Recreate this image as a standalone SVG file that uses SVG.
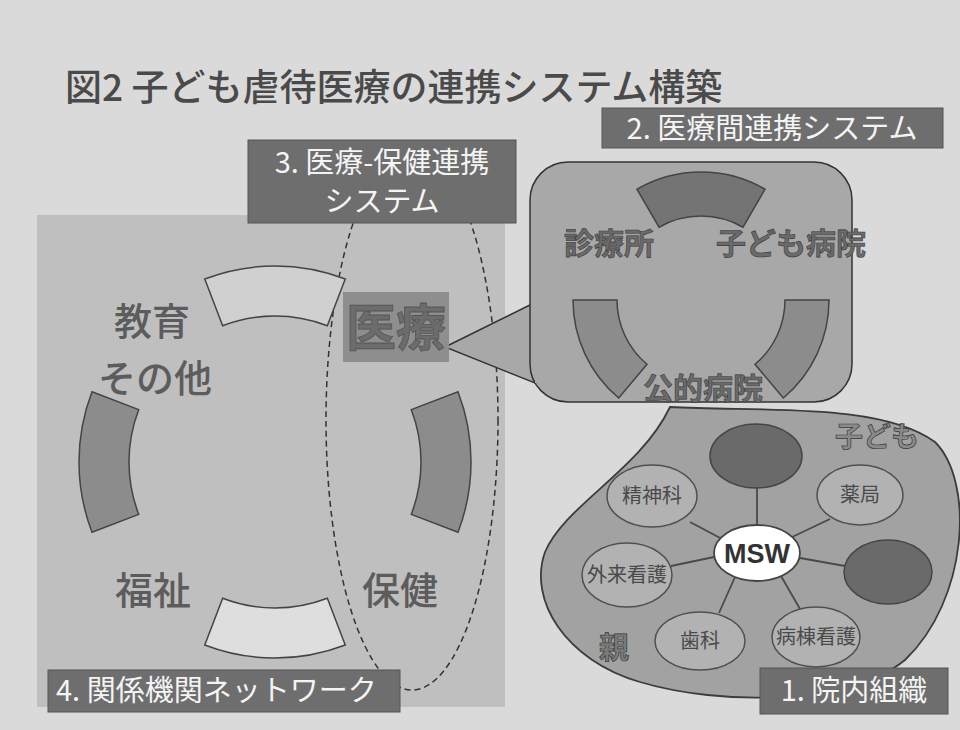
<svg xmlns="http://www.w3.org/2000/svg" width="960" height="730" viewBox="0 0 960 730">
<style>
.jp{font-family:"Noto Sans CJK JP","Liberation Sans",sans-serif}
.lbl{fill:#6e6e6e;stroke:#555;stroke-width:1}
.lbltxt{fill:#f4f4f4;font-size:29px}
.big{fill:#5c5c5c;font-size:38px;font-weight:500}
.bub{fill:#6a6a6a;font-size:30px;font-weight:700;stroke:#3a3a3a;stroke-width:0.6}
.ell{fill:#b2b2b2;stroke:#505050;stroke-width:1.5}
.dark{fill:#6a6a6a;stroke:#454545;stroke-width:1.5}
.etxt{fill:#4a4a4a;font-size:20px}
.seg{stroke:#444;stroke-width:1.5}
.conn line{stroke:#4a4a4a;stroke-width:1.8}
</style>
<rect width="960" height="730" fill="#dadada"/>
<g id="title"><text class="jp" x="65" y="101" font-size="37" font-weight="500" fill="#4a4a4a">図2 子ども虐待医療の連携システム構築</text></g>

<g id="network-area">
<rect x="37" y="215" width="468" height="492" fill="#bfbfbf"/>
<ellipse cx="412" cy="420" rx="86" ry="270" fill="none" stroke="#333" stroke-width="1.5" stroke-dasharray="6,4"/>
<path class="seg" fill="#d0d0d0" d="M204.75,279.01 A196,196 0 0 1 345.25,279.01 L327.33,325.69 A146,146 0 0 0 222.67,325.69 Z"/>
<path class="seg" fill="#dedede" d="M222.67,598.31 A146,146 0 0 0 327.33,598.31 L345.25,644.99 A196,196 0 0 1 204.75,644.99 Z"/>
<path class="seg" fill="#8c8c8c" d="M92.01,532.25 A196,196 0 0 1 92.01,391.75 L138.69,409.67 A146,146 0 0 0 138.69,514.33 Z"/>
<path class="seg" fill="#8c8c8c" d="M457.99,391.75 A196,196 0 0 1 457.99,532.25 L411.31,514.33 A146,146 0 0 0 411.31,409.67 Z"/>
</g>
<g id="kyoiku"><text class="jp big" x="152" y="335" text-anchor="middle">教育</text><text class="jp big" x="155" y="392" text-anchor="middle">その他</text></g>
<g id="fukushi"><text class="jp big" x="153" y="604" text-anchor="middle">福祉</text></g>
<g id="hoken"><text class="jp big" x="400" y="604" text-anchor="middle">保健</text></g>

<g id="callout">
<path d="M540,300 L445,347 L540,385 Z" fill="#a8a8a8" stroke="#333" stroke-width="1.5"/>
<rect x="530" y="162" width="322" height="240" rx="38" fill="#a8a8a8" stroke="#333" stroke-width="1.5"/>
<path d="M538,302 L538,383" stroke="#a8a8a8" stroke-width="6"/>
<path class="seg" fill="#747474" d="M637,189.15 A128,128 0 0 1 765,189.15 L743,227.25 A84,84 0 0 0 659,227.25 Z"/>
<path class="seg" fill="#8c8c8c" d="M573,300 L617,300 A84,84 0 0 0 647,364.3 L618.7,398 A128,128 0 0 1 573,300 Z"/>
<path class="seg" fill="#8c8c8c" d="M829,300 L785,300 A84,84 0 0 1 755,364.3 L783.3,398 A128,128 0 0 0 829,300 Z"/>
<text class="jp bub" x="609" y="254" text-anchor="middle">診療所</text>
<text class="jp bub" x="791" y="254" text-anchor="middle">子ども病院</text>
<text class="jp bub" x="703" y="399" text-anchor="middle">公的病院</text>
</g>

<g id="iryo">
<rect x="343" y="292" width="106" height="70" fill="#8e8e8e"/>
<text class="jp" x="396" y="346" text-anchor="middle" font-size="50" font-weight="700" fill="#6c6c6c" stroke="#555" stroke-width="0.8">医療</text>
</g>

<g id="label3"><rect class="lbl" x="248" y="140" width="268" height="83"/>
<text class="jp lbltxt" x="382" y="173" text-anchor="middle" font-size="27">3. 医療-保健連携</text>
<text class="jp lbltxt" x="382" y="212" text-anchor="middle" font-size="27">システム</text></g>
<g id="label2"><rect class="lbl" x="602" y="108" width="341" height="40"/>
<text class="jp lbltxt" x="772" y="139" text-anchor="middle">2. 医療間連携システム</text></g>

<g id="hospital">
<path d="M670,407 C760,412 880,402 935,442 C975,482 968,600 905,660 C850,705 720,706 640,682 C565,660 528,600 545,552 C565,505 640,470 670,407 Z" fill="#a2a2a2" stroke="#3c3c3c" stroke-width="1.8"/>
<text class="jp" x="877" y="447" text-anchor="middle" font-size="28" font-weight="700" fill="#8a8a8a" stroke="#3a3a3a" stroke-width="0.7">子ども</text>
<text class="jp" x="614" y="658" text-anchor="middle" font-size="30" font-weight="700" fill="#7a7a7a" stroke="#3a3a3a" stroke-width="0.7">親</text>
</g>
<g class="conn" id="connectors">
<line x1="757" y1="488" x2="757" y2="526"/>
<line x1="690" y1="522" x2="724" y2="540"/>
<line x1="790" y1="538" x2="830" y2="519"/>
<line x1="714" y1="557" x2="671" y2="566"/>
<line x1="800" y1="558" x2="845" y2="566"/>
<line x1="735" y1="577" x2="719" y2="613"/>
<line x1="781" y1="576" x2="800" y2="609"/>
</g>
<g id="n-top"><ellipse class="dark" cx="756" cy="456" rx="46" ry="32"/></g>
<g id="n-seishin"><ellipse class="ell" cx="652" cy="496" rx="45" ry="31"/><text class="jp etxt" x="652" y="503" text-anchor="middle">精神科</text></g>
<g id="n-yakkyoku"><ellipse class="ell" cx="860" cy="495" rx="43" ry="30"/><text class="jp etxt" x="860" y="502" text-anchor="middle">薬局</text></g>
<g id="n-left"><ellipse class="ell" cx="627" cy="575" rx="45" ry="32"/><text class="jp etxt" x="627" y="582" text-anchor="middle">外来看護</text></g>
<g id="n-right"><ellipse class="dark" cx="888" cy="572" rx="44" ry="32"/></g>
<g id="n-shika"><ellipse class="ell" cx="700" cy="641" rx="45" ry="29"/><text class="jp etxt" x="700" y="648" text-anchor="middle">歯科</text></g>
<g id="n-byoto"><ellipse class="ell" cx="816" cy="637" rx="44" ry="30"/><text class="jp etxt" x="816" y="644" text-anchor="middle">病棟看護</text></g>
<g id="n-msw"><ellipse cx="757" cy="553" rx="43" ry="28" fill="#ffffff" stroke="#444" stroke-width="1.8"/><text x="757" y="563" text-anchor="middle" font-family="Liberation Sans, sans-serif" font-size="27" font-weight="700" fill="#333">MSW</text></g>

<g id="label4"><rect class="lbl" x="48" y="670" width="352" height="42"/>
<text class="jp lbltxt" x="56" y="701">4. 関係機関ネットワーク</text></g>
<g id="label1"><rect class="lbl" x="760" y="668" width="188" height="46"/>
<text class="jp lbltxt" x="854" y="701" text-anchor="middle">1. 院内組織</text></g>
</svg>
